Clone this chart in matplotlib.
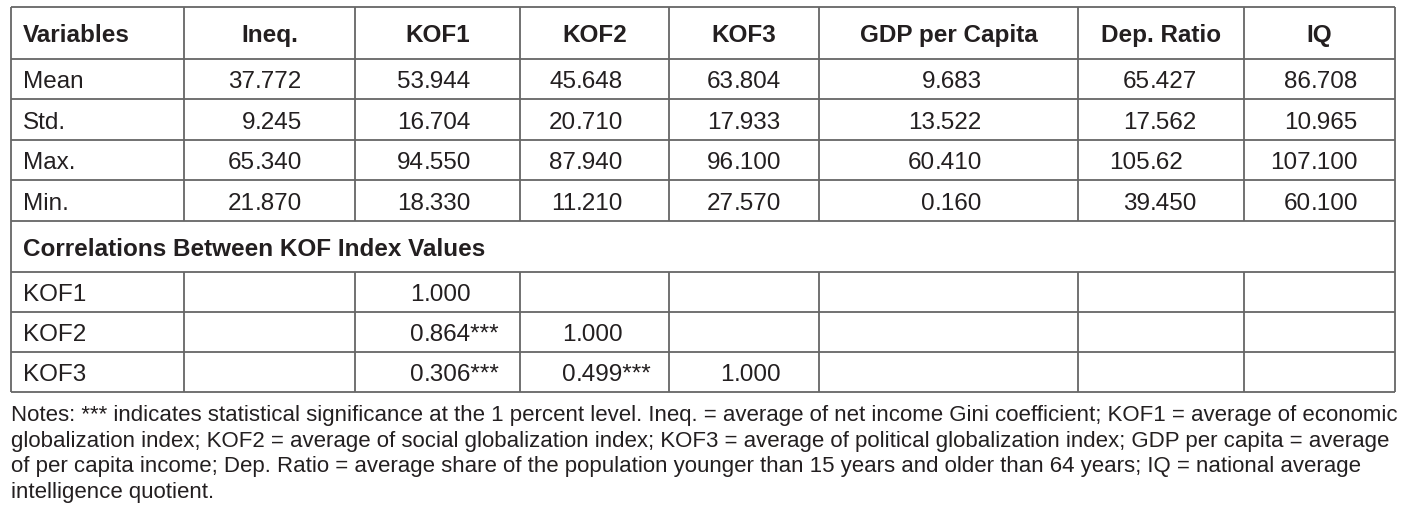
import matplotlib
matplotlib.use("Agg")
import matplotlib.pyplot as plt

# ---------------- data ----------------
columns = ["Variables", "Ineq.", "KOF1", "KOF2", "KOF3", "GDP per Capita", "Dep. Ratio", "IQ"]
stat_labels = ["Mean", "Std.", "Max.", "Min."]
ineq = ["37.772", "9.245", "65.340", "21.870"]
kof1 = ["53.944", "16.704", "94.550", "18.330"]
kof2 = ["45.648", "20.710", "87.940", "11.210"]
kof3 = ["63.804", "17.933", "96.100", "27.570"]
gdp = ["9.683", "13.522", "60.410", "0.160"]
dep_ratio = ["65.427", "17.562", "105.62", "39.450"]
iq = ["86.708", "10.965", "107.100", "60.100"]
corr_title = "Correlations Between KOF Index Values"
corr_labels = ["KOF1", "KOF2", "KOF3"]
corr_kof1 = ["1.000", "0.864***", "0.306***"]
corr_kof2 = ["", "1.000", "0.499***"]
corr_kof3 = ["", "", "1.000"]
notes_lines = [
    "Notes: *** indicates statistical significance at the 1 percent level. Ineq. = average of net income Gini coefficient; KOF1 = average of economic",
    "globalization index; KOF2 = average of social globalization index; KOF3 = average of political globalization index; GDP per capita = average",
    "of per capita income; Dep. Ratio = average share of the population younger than 15 years and older than 64 years; IQ = national average",
    "intelligence quotient.",
]

# ---------------- layout ----------------
W, H = 1416, 520
fig = plt.figure(figsize=(W / 100, H / 100), dpi=100)
ax = fig.add_axes([0, 0, 1, 1])
ax.set_xlim(0, W)
ax.set_ylim(H, 0)
ax.axis("off")

FONT = ["Liberation Sans", "DejaVu Sans"]
TXT = "#231f20"
LINE = "#666666"
FS = 17.5
LW = 1.3

xs = [11, 184, 355, 520, 669, 819, 1078, 1244, 1395]
ys = [7, 59, 99, 140, 180, 221, 272, 312, 352, 392]
dot_x = [None, 255, 424, 576, 734, 935, 1150, 1311]

# horizontal lines
for y in ys:
    ax.plot([xs[0], xs[-1]], [y, y], color=LINE, lw=LW, solid_capstyle="butt")
# vertical lines
for i, x in enumerate(xs):
    if i in (0, len(xs) - 1):
        ax.plot([x, x], [ys[0], ys[-1]], color=LINE, lw=LW, solid_capstyle="butt")
    else:
        ax.plot([x, x], [ys[0], ys[5]], color=LINE, lw=LW, solid_capstyle="butt")
        ax.plot([x, x], [ys[6], ys[-1]], color=LINE, lw=LW, solid_capstyle="butt")


def row_base(r):
    return (ys[r] + ys[r + 1]) / 2 + 9.3


def put_num(s, col, r):
    if not s:
        return
    if "." in s:
        ip, fp = s.split(".", 1)
        fp = "." + fp
    else:
        ip, fp = s, ""
    y = row_base(r)
    ax.text(dot_x[col], y, ip, ha="right", va="baseline", fontsize=FS, family=FONT, color=TXT)
    if fp:
        ax.text(dot_x[col], y, fp, ha="left", va="baseline", fontsize=FS, family=FONT, color=TXT)


# header
ax.text(23, row_base(0), columns[0], ha="left", va="baseline", fontsize=FS,
        family=FONT, weight="bold", color=TXT)
for c in range(1, len(columns)):
    ax.text((xs[c] + xs[c + 1]) / 2, row_base(0), columns[c], ha="center", va="baseline",
            fontsize=FS, family=FONT, weight="bold", color=TXT)

# descriptive stats
data_cols = [ineq, kof1, kof2, kof3, gdp, dep_ratio, iq]
for r, lab in enumerate(stat_labels):
    ax.text(23, row_base(r + 1), lab, ha="left", va="baseline", fontsize=FS, family=FONT, color=TXT)
    for c, colvals in enumerate(data_cols):
        put_num(colvals[r], c + 1, r + 1)

# correlation title
ax.text(23, row_base(5), corr_title, ha="left", va="baseline", fontsize=FS,
        family=FONT, weight="bold", color=TXT)

# correlations
corr_cols = [corr_kof1, corr_kof2, corr_kof3]
for r, lab in enumerate(corr_labels):
    ax.text(23, row_base(r + 6), lab, ha="left", va="baseline", fontsize=FS, family=FONT, color=TXT)
    for c, colvals in enumerate(corr_cols):
        put_num(colvals[r], c + 2, r + 6)

# notes
NFS = 16.0
for i, line in enumerate(notes_lines):
    ax.text(11, 421 + i * 25.6, line, ha="left", va="baseline", fontsize=NFS, family=FONT, color=TXT)

fig.savefig("out.png", dpi=100, facecolor="white")
